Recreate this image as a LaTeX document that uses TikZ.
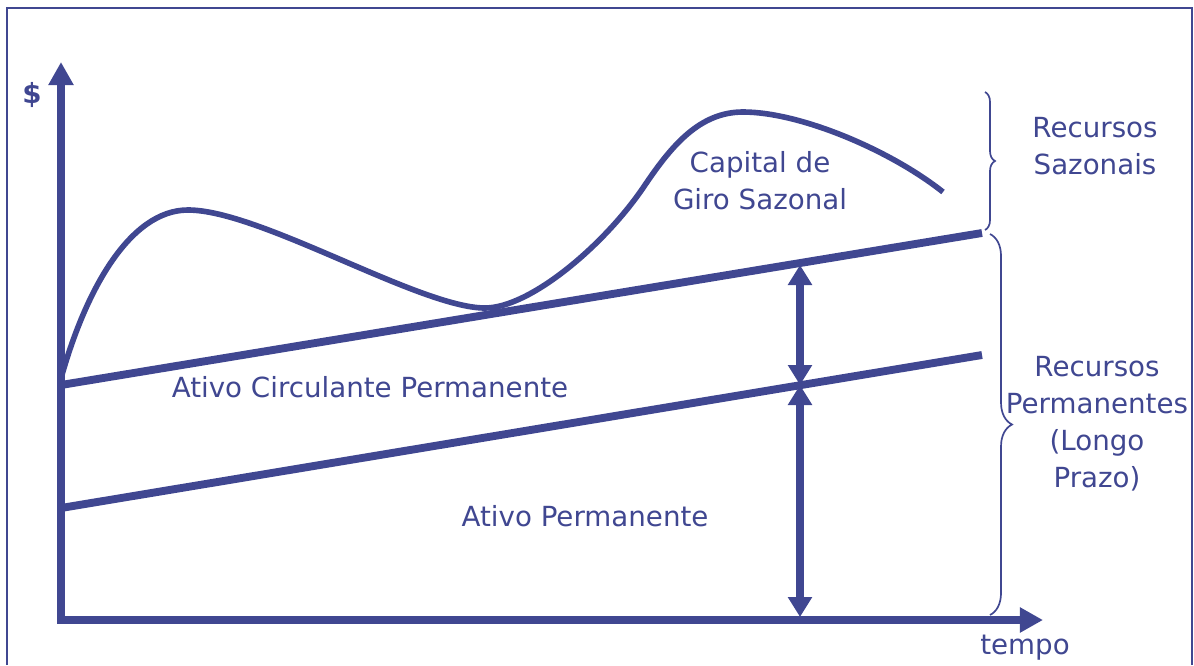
\documentclass[tikz,border=0pt]{standalone}
\usepackage{fontspec}
\setmainfont{DejaVu Sans}
\usetikzlibrary{arrows.meta,decorations.pathreplacing}
\definecolor{ink}{RGB}{64,71,145}

\begin{document}
\begin{tikzpicture}[x=0.025cm,y=-0.025cm,
  txt/.style={text=ink,font=\fontsize{19.7}{26.3}\selectfont,align=center,inner sep=0pt},
  axis/.style={draw=ink,line width=5pt,{Triangle[length=0.58cm,width=0.6cm]}-{Triangle[length=0.58cm,width=0.6cm]}},
  level/.style={draw=ink,line width=5.6pt},
  span/.style={draw=ink,line width=5pt,{Triangle[length=0.5cm,width=0.58cm]}-{Triangle[length=0.5cm,width=0.58cm]}},
  curly/.style={draw=ink,line width=1.2pt,decorate,decoration={brace,amplitude=#1}}]
\useasboundingbox (0,0) rectangle (1194,665);

% frame
\draw[ink,line width=1.6pt] (7,665) -- (7,8) -- (1192,8) -- (1192,665);

% axes
\coordinate (origin) at (61,620);
\coordinate (ytop) at (61,62);
\coordinate (xend) at (1043,620);
\draw[axis] (ytop) -- (origin) -- (xend);
\node[txt,font=\fontsize{19.7}{26.3}\selectfont\bfseries] (dollar) at (32,95) {\$};
\node[txt] (tempo) at (1025,648) {tempo};

% permanent levels
\coordinate (acp0) at (61,385);
\coordinate (acp1) at (982,233);
\coordinate (ap0) at (61,508);
\coordinate (ap1) at (982,355);
\draw[level] (acp0) -- (acp1);
\draw[level] (ap0) -- (ap1);

% seasonal curve
\draw[ink,line width=4pt] (60,382) .. controls (85,290) and (130,210) .. (188,210)
  .. controls (260,210) and (420,308) .. (485,308)
  .. controls (530,308) and (605,245) .. (645,185)
  .. controls (672,145) and (700,112) .. (743,112)
  .. controls (800,112) and (890,150) .. (943,192);

% spans
\coordinate (sA) at (800,265);
\coordinate (sB) at (800,385);
\coordinate (sC) at (800,617);
\draw[span] (sA) -- (sB);
\draw[span] (sB) -- (sC);

\node[txt] (cgs) at (760,181) {Capital de\\Giro Sazonal};
\node[txt] (acp) at (370,387) {Ativo Circulante Permanente};
\node[txt] (ap) at (585,516) {Ativo Permanente};

% braces
\coordinate (b1top) at (985,92);
\coordinate (b1bot) at (985,230);
\coordinate (b2top) at (990,234);
\coordinate (b2bot) at (990,615);
\draw[curly=0.25cm] (b1top) -- (b1bot);
\draw[curly=0.55cm] (b2top) -- (b2bot);

\node[txt] (sazonais) at (1095,146) {Recursos\\Sazonais};
\node[txt] (permanentes) at (1097,424) {Recursos\\Permanentes\\(Longo\\Prazo)};
\end{tikzpicture}
\end{document}
